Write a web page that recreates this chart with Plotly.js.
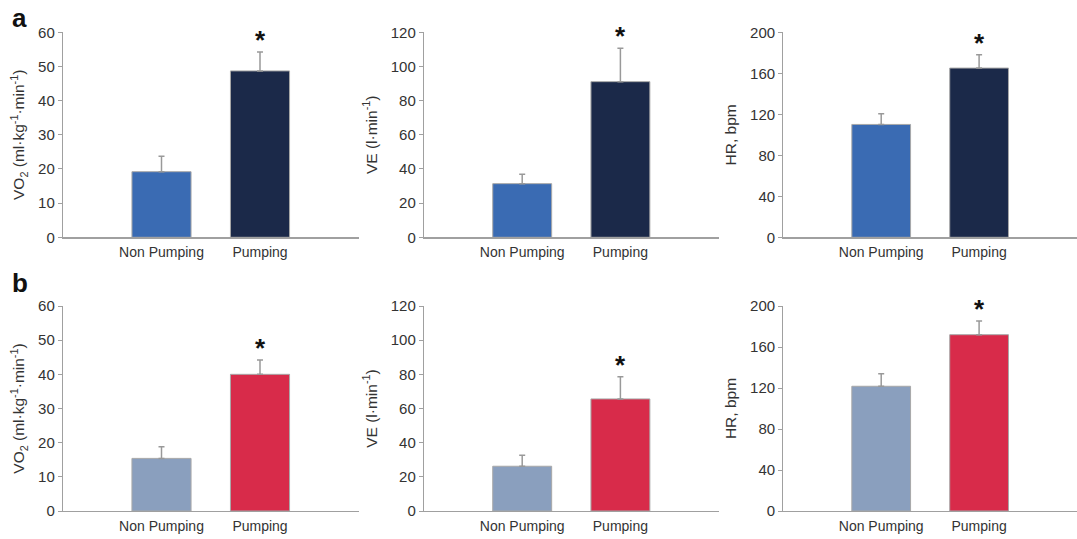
<!DOCTYPE html>
<html>
<head>
<meta charset="utf-8">
<script src="https://cdn.plot.ly/plotly-3.0.1.min.js"></script>
<style>html,body{margin:0;padding:0;background:#fff;}#chart{width:1077px;height:539px;}</style>
</head>
<body>
<div id="chart"></div>
<script>
// ---- data ----
const categories = ['Non Pumping', 'Pumping'];
const catPos = [1, 2];

const vo2A = [19.2, 48.7];
const vo2AErr = [4.5, 5.5];
const veA = [31.4, 91.1];
const veAErr = [5.5, 19.6];
const hrA = [110.1, 165.1];
const hrAErr = [10.4, 13.0];

const vo2B = [15.4, 40.0];
const vo2BErr = [3.4, 4.2];
const veB = [26.2, 65.6];
const veBErr = [6.4, 13.0];
const hrB = [121.7, 172.0];
const hrBErr = [12.2, 13.3];

const significant = [false, true];

const yTitles = ['VO<sub>2</sub> (ml·kg<sup>-1</sup>·min<sup>-1</sup>)', 'VE (l·min<sup>-1</sup>)', 'HR, bpm'];
const yMax = [60, 120, 200];
const yDtick = [10, 20, 40];
const panelLetters = ['a', 'b'];

// ---- styling ----
const colorsA = ['#3a6bb3', '#1b2949'];
const colorsB = ['#8a9fbe', '#d82b4a'];
const FONT = 'Liberation Sans, Arial, sans-serif';

const panels = [
  {vals: vo2A, err: vo2AErr, colors: colorsA, col: 0, row: 0},
  {vals: veA, err: veAErr, colors: colorsA, col: 1, row: 0},
  {vals: hrA, err: hrAErr, colors: colorsA, col: 2, row: 0},
  {vals: vo2B, err: vo2BErr, colors: colorsB, col: 0, row: 1},
  {vals: veB, err: veBErr, colors: colorsB, col: 1, row: 1},
  {vals: hrB, err: hrBErr, colors: colorsB, col: 2, row: 1}
];

const W = 1077, H = 539;
const xDomPx = [[63, 358.5], [424, 718.6], [783.3, 1077]];
const yDomPx = [[32.3, 237.3], [306, 511]]; // top, bottom in px

const data = [];
const layout = {
  width: W, height: H,
  margin: {l: 0, r: 0, t: 0, b: 0},
  paper_bgcolor: '#ffffff', plot_bgcolor: '#ffffff',
  showlegend: false,
  font: {family: FONT, color: '#333333', size: 14},
  annotations: [],
  bargap: 0
};

panels.forEach((p, i) => {
  const n = i + 1;
  const xa = 'x' + (n === 1 ? '' : n), ya = 'y' + (n === 1 ? '' : n);
  data.push({
    type: 'bar',
    x: catPos, y: p.vals,
    width: 0.6,
    xaxis: xa, yaxis: ya,
    marker: {color: p.colors, line: {color: '#a8a8a8', width: 1}},
    error_y: {type: 'data', array: p.err, arrayminus: p.err.map(() => 0), symmetric: false,
              color: '#999999', thickness: 1.5, width: 3},
    hoverinfo: 'skip'
  });
  const xd = xDomPx[p.col], yd = yDomPx[p.row];
  layout['xaxis' + (n === 1 ? '' : n)] = {
    domain: [xd[0] / W, xd[1] / W],
    anchor: ya, range: [0, 3],
    tickvals: catPos, ticktext: categories,
    ticks: 'outside', ticklen: 2, tickcolor: 'rgba(0,0,0,0)',
    showgrid: false, zeroline: false,
    showline: true, linecolor: '#a0a0a0', linewidth: 1.2,
    tickfont: {size: 14, color: '#333333', family: FONT},
    fixedrange: true
  };
  layout['yaxis' + (n === 1 ? '' : n)] = {
    domain: [(H - yd[1]) / H, (H - yd[0]) / H],
    anchor: xa, range: [0, yMax[p.col]], dtick: yDtick[p.col], tick0: 0,
    ticks: 'outside', ticklen: 4, tickcolor: '#a0a0a0',
    showgrid: false, zeroline: false,
    showline: true, linecolor: '#a0a0a0', linewidth: 1.2,
    tickfont: {size: 15, color: '#333333', family: FONT},
    title: {text: yTitles[p.col], font: {size: 15.5, color: '#333333', family: FONT}, standoff: 9},
    fixedrange: true
  };
  significant.forEach((s, k) => {
    if (s) {
      layout.annotations.push({
        xref: xa, yref: ya, x: catPos[k], y: p.vals[k] + p.err[k],
        text: '<b>*</b>', showarrow: false, yanchor: 'bottom', yshift: -5,
        font: {size: 26, color: '#111111', family: FONT}
      });
    }
  });
});

panelLetters.forEach((l, r) => {
  layout.annotations.push({
    xref: 'paper', yref: 'paper', x: 20 / W, y: 1 - (r === 0 ? 18 : 283) / H,
    xanchor: 'center', yanchor: 'middle', showarrow: false,
    text: '<b>' + l + '</b>', font: {size: 26, color: '#111111', family: FONT}
  });
});

Plotly.newPlot('chart', data, layout, {displayModeBar: false, staticPlot: true});
</script>
</body>
</html>
